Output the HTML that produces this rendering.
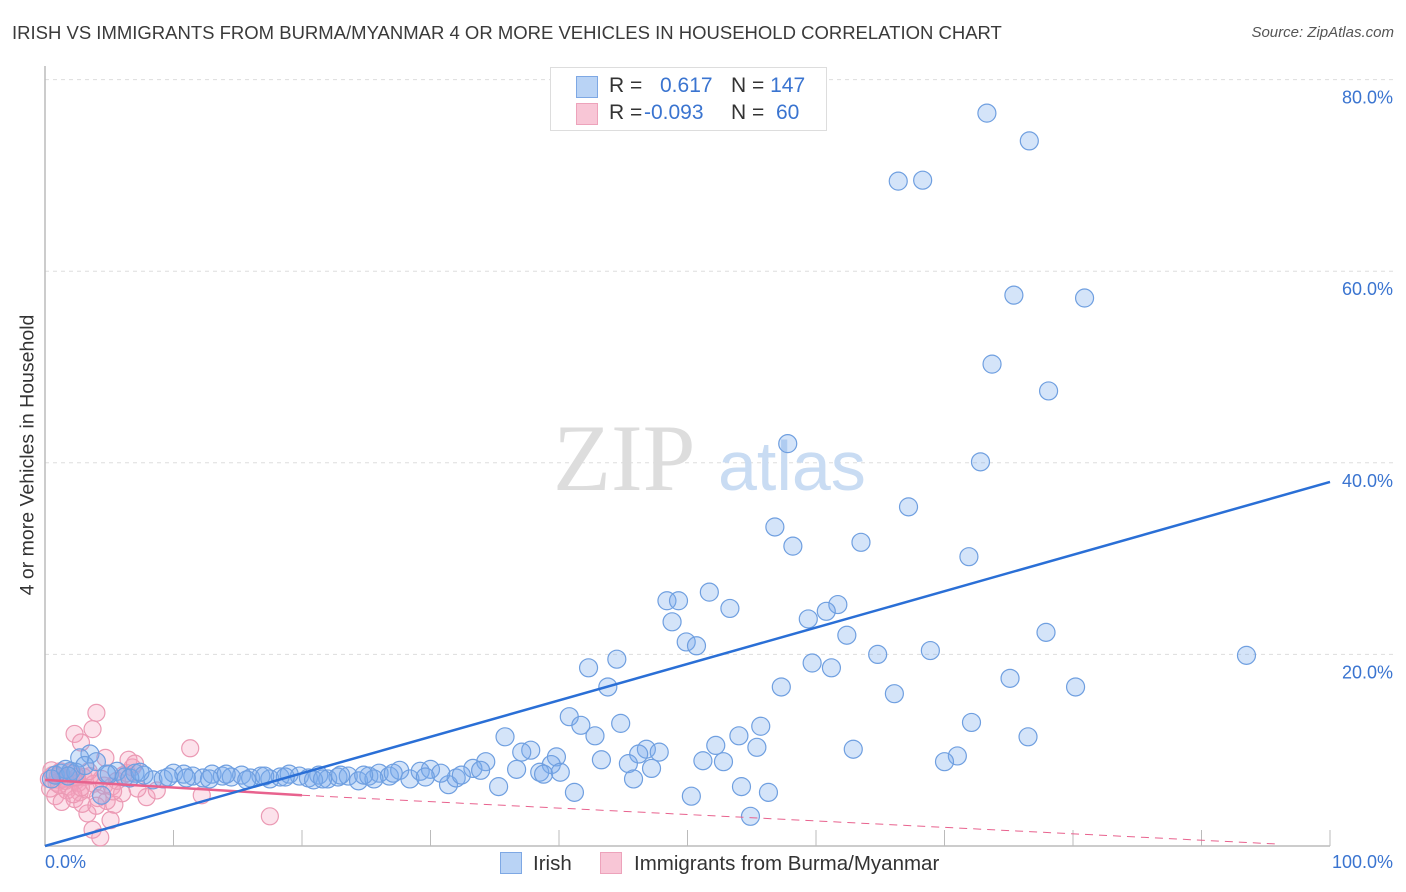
<!DOCTYPE html>
<html><head><meta charset="utf-8"><style>
body{margin:0;background:#fff;font-family:"Liberation Sans",sans-serif;}
#wrap{position:relative;width:1406px;height:892px;overflow:hidden;}
.t{position:absolute;white-space:nowrap;}
</style></head><body>
<div id="wrap">
<div class="t" style="left:12px;top:22px;font-size:18.5px;color:#3a3a3a;">IRISH VS IMMIGRANTS FROM BURMA/MYANMAR 4 OR MORE VEHICLES IN HOUSEHOLD CORRELATION CHART</div>
<div class="t" style="right:12px;top:24px;font-size:15px;color:#555;font-style:italic;">Source: ZipAtlas.com</div>
<svg id="svg" width="1406" height="892" style="position:absolute;left:0;top:0"></svg>
</div>
<script>
const yTicks=[20,40,60,80];
const yTickLabels=["20.0%","40.0%","60.0%","80.0%"];
const xTickLabels=["0.0%","100.0%"];
const irishX=[73.3,76.6,66.4,68.3,75.4,80.9,73.7,78.1,57.8,72.8,67.2,56.8,58.2,63.5,71.9,48.4,49.3,51.7,53.3,61.7,60.8,59.4,48.8,62.4,77.9,49.9,50.7,64.8,68.9,93.5,44.5,42.3,59.7,61.2,75.1,43.8,57.3,80.2,66.1,40.8,41.7,44.8,42.8,35.8,55.7,54.0,72.1,76.5,52.2,55.4,62.9,37.8,37.1,46.8,47.8,46.2,39.8,71.0,70.0,43.3,51.2,52.8,45.4,34.3,39.4,47.2,33.3,33.9,36.7,38.5,38.8,40.1,45.8,35.3,31.4,32.0,32.4,41.2,50.3,54.2,56.3,54.9,
3.5,2.7,4.0,1.2,0.8,2.0,5.0,5.6,6.2,7.0,7.7,8.4,9.2,10.0,10.8,11.5,12.3,13.0,13.8,14.5,15.3,16.0,16.8,17.5,18.3,19.0,19.8,20.5,21.3,22.0,22.8,23.6,24.4,25.2,26.0,26.8,27.6,28.4,29.2,30.0,30.8,4.4,1.6,2.4,3.1,6.6,9.6,12.8,17.1,20.9,23.0,25.6,27.1,29.6,0.5,1.8,4.8,7.4,11.0,14.1,15.7,18.7,21.6,24.8];
const irishY=[76.5,73.6,69.4,69.5,57.5,57.2,50.3,47.5,42.0,40.1,35.4,33.3,31.3,31.7,30.2,25.6,25.6,26.5,24.8,25.2,24.5,23.7,23.4,22.0,22.3,21.3,20.9,20.0,20.4,19.9,19.5,18.6,19.1,18.6,17.5,16.6,16.6,16.6,15.9,13.5,12.6,12.8,11.5,11.4,12.5,11.5,12.9,11.4,10.5,10.3,10.1,10.0,9.8,10.1,9.8,9.6,9.3,9.4,8.8,9.0,8.9,8.8,8.6,8.8,8.5,8.1,8.1,7.9,8.0,7.7,7.5,7.7,7.0,6.2,6.4,7.1,7.4,5.6,5.2,6.2,5.6,3.1,
9.6,9.2,8.8,7.6,7.4,7.8,7.5,7.8,7.2,7.6,7.4,6.9,7.0,7.6,7.5,7.3,7.1,7.5,7.3,7.2,7.4,7.1,7.3,7.0,7.2,7.5,7.3,7.1,7.4,7.0,7.2,7.3,6.8,7.3,7.6,7.3,7.9,7.0,7.8,8.0,7.6,5.3,8.0,7.7,8.4,7.1,7.2,7.0,7.3,6.9,7.4,7.0,7.6,7.2,7.0,7.3,7.5,7.7,7.1,7.5,6.9,7.2,7.0,7.4];
const burmaX=[4.0,3.7,2.3,2.8,11.3,6.5,4.7,7.9,8.7,12.2,17.5,5.4,5.1,3.7,4.3,3.3,0.3,0.6,0.9,1.2,1.5,1.8,2.1,2.4,2.7,3.0,0.4,0.8,1.1,1.4,1.7,2.0,2.3,2.6,2.9,3.2,3.5,3.8,4.1,4.4,4.8,5.2,5.6,6.0,6.4,6.8,7.2,0.5,1.0,1.6,2.2,2.8,3.4,4.0,4.6,5.3,6.1,7.0,1.3,2.5];
const burmaY=[13.9,12.2,11.7,10.8,10.2,9.0,9.2,5.1,5.8,5.3,3.1,4.3,2.7,1.7,0.9,3.4,7.0,7.4,6.6,7.8,7.1,6.2,7.5,6.8,5.6,7.2,6.0,5.2,6.4,7.0,5.8,7.7,4.9,6.6,4.4,5.9,7.3,6.5,5.0,7.0,4.7,6.2,6.8,5.5,7.6,8.2,6.0,7.9,7.3,6.8,5.4,6.1,7.8,4.2,6.3,5.7,7.4,8.6,4.6,7.2];

const X0=45,X1=1330,Y0=846,YS=9.58;
function xs(v){return X0+(X1-X0)*v/100;}
function ys(v){return Y0-v*YS;}
const svg=document.getElementById('svg');
const NS="http://www.w3.org/2000/svg";
function mk(tag,attrs){const e=document.createElementNS(NS,tag);for(const k in attrs)e.setAttribute(k,attrs[k]);svg.appendChild(e);return e;}
yTicks.forEach((t,i)=>{
 const g=mk('line',{x1:X0,x2:1395,y1:ys(t),y2:ys(t),stroke:'#ddd','stroke-dasharray':'4,4'});
 
 
 const l=mk('text',{x:1393,y:ys(t)+24,'text-anchor':'end','font-size':'18','fill':'#3a74d0','font-family':'Liberation Sans, sans-serif'});
 l.textContent=yTickLabels[i];
 
 
});
const ya=mk('line',{x1:X0,x2:X0,y1:66,y2:Y0,stroke:'#bbb','stroke-width':1.5});


const xa=mk('line',{x1:X0,x2:X1,y1:Y0,y2:Y0,stroke:'#bbb','stroke-width':1.5});


for(let i=1;i<=10;i++){const tk=mk('line',{x1:xs(i*10),x2:xs(i*10),y1:Y0-16,y2:Y0,stroke:'#bbb'});
 
 }
const wm=mk('text',{x:553,y:490,'font-size':'95','fill':'#ddd','font-family':'Liberation Serif, serif'});wm.textContent='ZIP';


const wm2=mk('text',{x:718,y:490,'font-size':'70','fill':'#c9dcf3','font-family':'Liberation Sans, sans-serif'});wm2.textContent='atlas';


burmaX.forEach((x,i)=>{const c=mk('circle',{cx:xs(x),cy:ys(burmaY[i]),r:8.5,fill:'rgba(244,160,188,0.3)',stroke:'#eb9ab4','stroke-width':1.2});
 
 });
irishX.forEach((x,i)=>{const c=mk('circle',{cx:xs(x),cy:ys(irishY[i]),r:9,fill:'rgba(120,170,235,0.32)',stroke:'#6f9fe0','stroke-width':1.2});
 
 });
const pt1=mk('line',{x1:xs(0),y1:ys(6.9),x2:xs(20),y2:ys(5.3),stroke:'#e8628e','stroke-width':2.5});


const pt2=mk('line',{x1:xs(20),y1:ys(5.3),x2:xs(96),y2:ys(0.2),stroke:'#e8628e','stroke-width':1,'stroke-dasharray':'8,6'});


const bt=mk('line',{x1:xs(0),y1:ys(0),x2:xs(100),y2:ys(38),stroke:'#2a6fd6','stroke-width':2.5});


</script>
<div class="t" style="left:45px;top:852px;font-size:18px;color:#3a74d0;">0.0%</div>
<div class="t" style="right:13px;top:852px;font-size:18px;color:#3a74d0;">100.0%</div>
<div class="t" style="left:28px;top:455px;font-size:19.5px;color:#333;transform:translate(-50%,-50%) rotate(-90deg);">4 or more Vehicles in Household</div>
<div style="position:absolute;left:550px;top:67px;width:275px;height:62px;border:1px solid #ddd;background:#fff;font-size:21px;">
 <div style="position:absolute;left:25px;top:8px;width:20px;height:20px;background:#b9d3f5;border:1px solid #7ea8e4;"></div>
 <div class="t" style="left:58px;top:6px;color:#333;">R = </div>
 <div class="t" style="left:109px;top:6px;color:#3a74d0;">0.617</div>
 <div class="t" style="left:180px;top:6px;color:#333;">N = <span style="color:#3a74d0">147</span></div>
 <div style="position:absolute;left:25px;top:35px;width:20px;height:20px;background:#f8c6d6;border:1px solid #eda3bb;"></div>
 <div class="t" style="left:58px;top:33px;color:#333;">R = </div>
 <div class="t" style="left:93px;top:33px;color:#3a74d0;">-0.093</div>
 <div class="t" style="left:180px;top:33px;color:#333;">N = &nbsp;<span style="color:#3a74d0">60</span></div>
</div>
<div style="position:absolute;left:500px;top:852px;font-size:20.5px;color:#333;">
 <span style="position:absolute;left:0;top:0;white-space:nowrap;"><span style="display:inline-block;width:20px;height:20px;background:#b9d3f5;border:1px solid #7ea8e4;vertical-align:-4px;margin-right:11px;"></span>Irish</span>
 <span style="position:absolute;left:100px;top:0;white-space:nowrap;"><span style="display:inline-block;width:20px;height:20px;background:#f8c6d6;border:1px solid #eda3bb;vertical-align:-4px;margin-right:12px;"></span>Immigrants from Burma/Myanmar</span>
</div>
</body></html>
